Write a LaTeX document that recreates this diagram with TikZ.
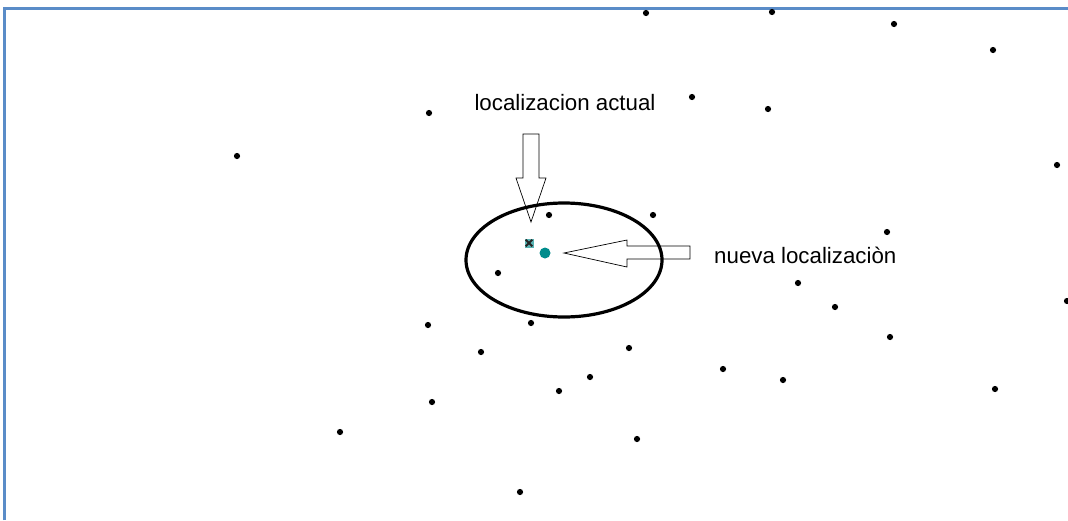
\documentclass[tikz,border=0pt]{standalone}
\usepackage{fontspec}
\setmainfont{Liberation Sans}
\usetikzlibrary{shapes.geometric}
\definecolor{frameblue}{RGB}{90,140,200}
\definecolor{teal1}{RGB}{0,140,140}
\begin{document}
\begin{tikzpicture}[x=1pt,y=-1pt,
  dot/.style={circle,fill=black,inner sep=0pt,minimum size=6.2pt},
  lbl/.style={font=\fontsize{22.3}{26}\selectfont,inner sep=0pt},
  blockarrow/.style={draw=black,line width=0.7pt,fill=white,line join=miter}]
\useasboundingbox (0,0) rectangle (1068,520);
\fill[white] (0,0) rectangle (1068,520);
\draw[frameblue,line width=3pt] (4,520) -- (4,8) -- (1068,8);
% scattered points
\foreach \x/\y [count=\i] in {646/13,772/12,894/24,993/50,429/113,692/97,768/109,237/156,1057/165,549/215,653/215,887/232,498/273,798/283,835/307,1067/301,428/325,531/323,890/337,481/352,629/348,723/369,590/377,783/380,559/391,995/389,432/402,340/432,637/439,520/492}
  \node[dot] (d\i) at (\x,\y) {};
% block arrows
\draw[blockarrow] (523,134) -- (539,134) -- (539,178) -- (546,178) -- (531,222) -- (516,178) -- (523,178) -- cycle;
\draw[blockarrow] (690,246) -- (627,246) -- (627,240) -- (564,253) -- (627,267) -- (627,259) -- (690,259) -- cycle;
% neighbourhood
\node[draw=black,line width=3.2pt,ellipse,minimum width=196pt,minimum height=114pt,inner sep=0pt] (nb) at (564,260) {};
% current and new location
\node[fill=teal1!65,inner sep=0pt,minimum size=9pt] (cur) at (529,243) {};
\draw[line width=1.8pt,black!85] ([shift={(-3.3,-3.3)}]cur.center) -- ([shift={(3.3,3.3)}]cur.center)
  ([shift={(-3.3,3.3)}]cur.center) -- ([shift={(3.3,-3.3)}]cur.center);
\node[circle,fill=teal1,inner sep=0pt,minimum size=11pt] (new) at (545,253) {};
% labels
\node[lbl] (t1) at (565,103) {localizacion actual};
\node[lbl,anchor=west] (t2) at (714,255) {nueva localizaciòn};
\end{tikzpicture}
\end{document}
